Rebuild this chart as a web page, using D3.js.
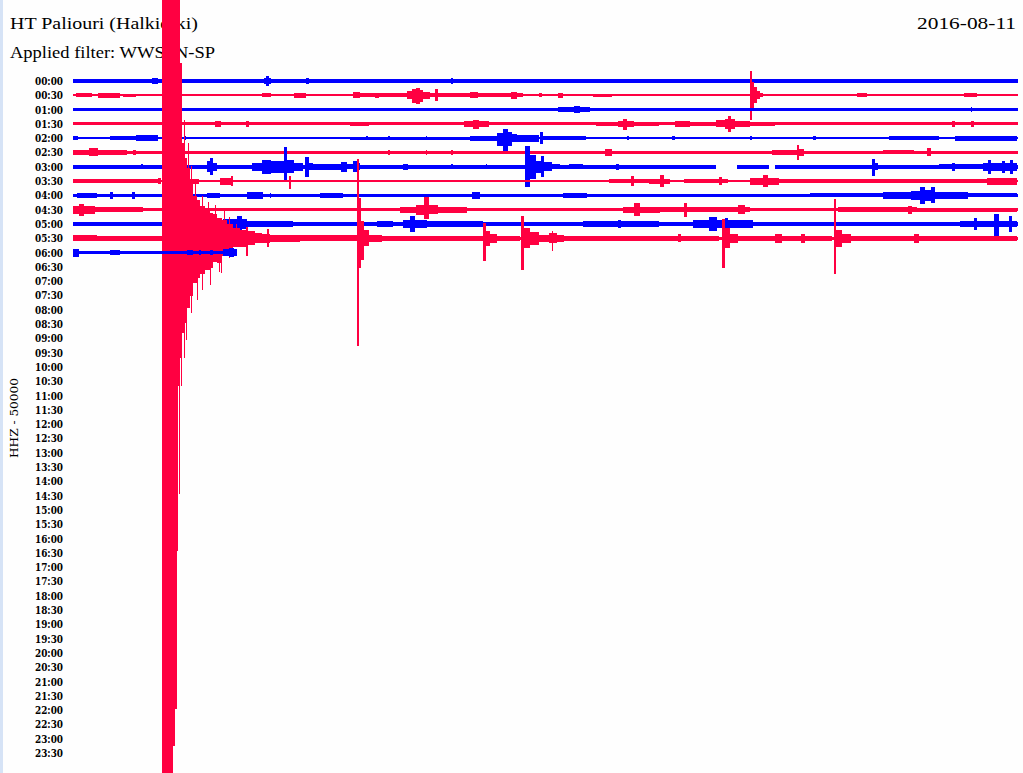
<!DOCTYPE html>
<html>
<head>
<meta charset="utf-8">
<script src="https://cdn.jsdelivr.net/npm/d3@7"></script>
<style>
  html, body { margin: 0; padding: 0; background: #fefefe; overflow: hidden; }
  svg { display: block; }
</style>
</head>
<body>
<div id="chart"></div>
<script>
// helicorder HT Paliouri, 2016-08-11, one line = 30 minutes
var station = "HT Paliouri (Halkidiki)";
var filterName = "Applied filter: WWSSN-SP";
var dayLabel = "2016-08-11";
var channelLabel = "HHZ - 50000";

var rowLabels = [
  "00:00", "00:30", "01:00", "01:30", "02:00", "02:30", "03:00", "03:30",
  "04:00", "04:30", "05:00", "05:30", "06:00", "06:30", "07:00", "07:30",
  "08:00", "08:30", "09:00", "09:30", "10:00", "10:30", "11:00", "11:30",
  "12:00", "12:30", "13:00", "13:30", "14:00", "14:30", "15:00", "15:30",
  "16:00", "16:30", "17:00", "17:30", "18:00", "18:30", "19:00", "19:30",
  "20:00", "20:30", "21:00", "21:30", "22:00", "22:30", "23:00", "23:30"
];

// background noise level of each recorded line (kilocounts)
var noiseLevel = [6, 3.5, 6, 5.5, 3.5, 5.5, 6, 4.5, 6, 5.5, 7, 6, 6];
// minutes recorded on each line
var recordedMinutes = [30, 30, 30, 30, 30, 30, 30, 30, 30, 30, 30, 30, 5.21];
// data gaps: [line, from minute, to minute]
var gaps = [[6, 20.41, 21.08], [6, 22.10, 22.29]];

// bursts per line: [from minute, to minute, peak up (kc), peak down (kc)]
var line0 = [[2.5, 2.7, 9, 9], [6.05, 6.3, 10, 10], [6.13, 6.22, 17, 17], [7.4, 7.5, 9, 9],
  [12.0, 12.05, 9, 9], [18.5, 18.6, 8, 8], [25.0, 25.05, 8, 8]];
var line1 = [[0.1, 0.6, 7, 7], [0.8, 1.5, 8, 8], [1.6, 2.0, 6, 6], [6.0, 6.3, 7, 7], [7.0, 7.4, 8, 8],
  [8.9, 9.1, 10, 10], [9.05, 10.6, 7, 7], [9.6, 9.7, 9, 9], [10.6, 10.75, 14, 14], [10.75, 10.9, 22, 28],
  [10.9, 11.0, 25, 32], [11.0, 11.1, 18, 22], [11.1, 11.33, 11, 13], [11.5, 11.6, 21, 21],
  [11.33, 14.3, 7, 7], [12.6, 12.85, 11, 11], [13.9, 14.1, 13, 13], [14.8, 14.9, 7, 7],
  [15.4, 15.55, 8, 8], [16.5, 17.1, 6, 6], [21.49, 21.56, 84, 88], [21.56, 21.62, 45, 50],
  [21.62, 21.72, 28, 28], [21.72, 21.82, 14, 14], [21.82, 21.92, 7, 7], [24.9, 25.2, 7, 7],
  [28.3, 28.7, 7, 7]];
var line2 = [[15.4, 16.4, 10, 10], [15.9, 16.1, 13, 13], [28.5, 28.55, 8, 8]];
var line3 = [[4.5, 4.7, 10, 10], [5.5, 5.6, 10, 10], [8.8, 9.4, 7, 7], [12.4, 13.2, 10, 12],
  [12.7, 12.9, 14, 18], [16.6, 17.3, 8, 8], [17.3, 17.8, 11, 12], [17.45, 17.6, 18, 21],
  [17.8, 18.6, 8, 8], [19.1, 19.6, 10, 10], [19.6, 20.4, 8, 8], [20.4, 20.7, 12, 12],
  [20.7, 21.0, 18, 18], [20.8, 20.9, 28, 27], [21.0, 21.5, 10, 10], [21.5, 22.3, 8, 8],
  [27.9, 28.0, 10, 10], [28.5, 28.6, 10, 10]];
var line4 = [[0.0, 0.15, 7, 7], [1.17, 2.0, 7, 7], [2.0, 2.7, 10, 10], [3.55, 3.6, 7, 7],
  [8.8, 12.6, 5, 5], [9.3, 9.35, 7, 7], [10.0, 10.05, 7, 7], [11.2, 11.25, 7, 7],
  [12.6, 13.46, 9, 9], [13.46, 13.65, 18, 26], [13.65, 13.8, 31, 47], [13.8, 13.95, 22, 28],
  [13.95, 14.1, 14, 14], [14.1, 14.8, 12, 14], [14.83, 14.92, 21, 21], [14.92, 16.0, 7, 7],
  [16.0, 16.3, 6, 6], [17.6, 17.65, 7, 7], [19.0, 19.1, 7, 7], [21.5, 21.55, 7, 7],
  [23.5, 23.6, 7, 7], [25.9, 27.5, 8, 8], [28.0, 29.97, 9, 9]];
var line5 = [[0.0, 1.7, 9, 9], [0.5, 0.8, 14, 14], [1.9, 2.0, 8, 8], [10.0, 10.05, 8, 8],
  [11.2, 11.25, 8, 8], [12.0, 12.05, 8, 8], [16.9, 17.1, 11, 14], [22.2, 23.0, 8, 8],
  [22.98, 23.06, 27, 28], [23.06, 23.2, 11, 11], [25.7, 26.7, 7, 7], [27.1, 27.25, 14, 14]];
var line6 = [[2.17, 2.22, 9, 9], [4.25, 4.35, 20, 18], [4.35, 4.45, 31, 28], [4.45, 4.57, 14, 14],
  [4.57, 5.7, 7, 7], [5.68, 6.0, 14, 14], [6.0, 6.3, 24, 26], [6.3, 6.7, 20, 20],
  [6.7, 6.8, 70, 49], [6.8, 7.0, 22, 20], [7.0, 7.3, 14, 14], [7.35, 7.5, 35, 35],
  [7.5, 7.62, 12, 12], [7.62, 8.5, 10, 10], [8.5, 8.7, 17, 17], [8.7, 8.9, 9, 9],
  [8.9, 9.0, 21, 17], [9.0, 9.1, 12, 10], [10.48, 10.62, 10, 10], [12.0, 12.05, 8, 8],
  [13.1, 13.15, 8, 8], [14.35, 14.5, 73, 70], [14.5, 14.7, 42, 42], [14.7, 14.85, 20, 20],
  [14.85, 14.95, 38, 35], [14.95, 15.2, 15, 15], [15.2, 15.45, 9, 9], [15.75, 16.2, 9, 9],
  [17.25, 17.32, 10, 10], [25.38, 25.45, 27, 31], [25.45, 25.55, 12, 12], [27.5, 28.9, 8, 8],
  [27.9, 28.0, 14, 14], [28.9, 29.97, 13, 13], [29.05, 29.15, 24, 24], [29.5, 29.6, 21, 21],
  [29.75, 29.85, 25, 25]];
var line7 = [[0.0, 2.76, 7, 7], [2.7, 2.8, 11, 11], [3.6, 4.0, 9, 9], [4.67, 5.08, 12, 12],
  [5.0, 5.08, 17, 17], [6.85, 6.92, 17, 28], [17.0, 18.6, 8, 8], [17.7, 17.8, 17, 17],
  [18.3, 18.95, 9, 9], [18.65, 18.75, 21, 21], [19.4, 20.8, 6, 6], [20.5, 20.6, 14, 14],
  [21.5, 22.4, 12, 12], [21.9, 22.05, 21, 21], [22.4, 29.0, 6, 6], [29.0, 29.97, 12, 12]];
var line8 = [[0.13, 0.76, 9, 9], [1.17, 1.27, 11, 11], [1.87, 1.97, 11, 11], [4.25, 4.67, 8, 8],
  [5.52, 6.03, 11, 11], [6.25, 6.3, 10, 10], [7.84, 8.57, 8, 8], [12.67, 12.92, 13, 13],
  [15.56, 16.32, 10, 10], [23.4, 25.7, 7, 7], [25.7, 26.6, 11, 11], [26.6, 27.0, 17, 17],
  [26.9, 27.05, 31, 31], [27.05, 27.3, 18, 18], [27.25, 27.35, 28, 28], [27.35, 27.8, 12, 12],
  [27.8, 28.4, 12, 12], [28.4, 29.97, 7, 7]];
var line9 = [[0.0, 0.7, 14, 14], [0.2, 0.35, 21, 21], [0.7, 2.22, 8, 8], [10.38, 12.51, 10, 10],
  [10.9, 11.15, 18, 18], [11.15, 11.3, 45, 31], [11.3, 11.6, 15, 15], [11.6, 12.51, 9, 9],
  [17.46, 18.63, 11, 11], [17.8, 18.0, 22, 22], [18.32, 21.49, 9, 9], [19.4, 19.48, 24, 24],
  [21.11, 21.33, 15, 15], [24.3, 26.8, 8, 8], [26.5, 26.65, 14, 14], [26.8, 29.97, 7, 7]];
var line10 = [[0.0, 2.76, 8, 8], [4.76, 5.52, 17, 17], [5.2, 5.35, 28, 28], [5.52, 6.98, 10, 10],
  [6.98, 8.95, 8, 8], [9.65, 10.16, 10, 10], [10.48, 11.24, 14, 14], [10.7, 10.85, 28, 28],
  [11.24, 13.0, 10, 10], [13.0, 16.0, 8, 8], [16.2, 18.6, 10, 10], [17.3, 17.4, 14, 14],
  [18.6, 19.7, 8, 8], [19.68, 21.6, 14, 14], [20.2, 20.45, 26, 26], [20.7, 20.8, 21, 21],
  [21.6, 28.2, 8, 8], [28.16, 29.97, 12, 12], [28.6, 28.7, 21, 21], [29.25, 29.4, 35, 42],
  [29.7, 29.82, 28, 28]];
// 05:30 line, with the large earthquake at 05:32:50 and its aftershocks
var line11 = [[0.0, 0.76, 11, 11], [0.76, 2.83, 8, 8],
  [2.83, 3.17, 2450, 2450], [3.17, 3.24, 2450, 1775], [3.24, 3.30, 2450, 1645],
  [3.30, 3.33, 2450, 1095], [3.33, 3.40, 840, 515], [3.36, 3.38, 840, 896],
  [3.40, 3.46, 612, 420], [3.44, 3.46, 612, 515],
  [3.46, 3.56, 332, 332], [3.51, 3.53, 413, 420], [3.56, 3.62, 280, 298], [3.60, 3.62, 280, 354],
  [3.62, 3.71, 245, 245], [3.64, 3.66, 332, 245], [3.71, 3.81, 192, 203], [3.74, 3.76, 252, 262],
  [3.81, 3.94, 147, 158], [3.86, 3.88, 192, 158], [3.94, 4.03, 133, 140], [3.94, 3.96, 133, 217],
  [4.03, 4.19, 112, 126], [4.09, 4.11, 147, 182], [4.19, 4.35, 98, 112], [4.28, 4.30, 126, 112],
  [4.35, 4.44, 88, 105], [4.36, 4.38, 88, 164], [4.44, 4.57, 84, 84], [4.50, 4.52, 115, 84],
  [4.57, 4.73, 70, 88], [4.62, 4.64, 70, 119], [4.69, 4.71, 70, 122], [4.73, 4.89, 63, 63],
  [4.78, 4.80, 94, 63], [4.89, 5.08, 49, 46], [4.94, 4.96, 73, 70], [5.08, 5.30, 35, 32],
  [5.16, 5.18, 49, 32], [5.30, 5.52, 30, 30], [5.48, 5.55, 40, 63],
  [5.52, 5.78, 24, 22], [5.78, 6.0, 18, 18], [6.0, 6.25, 15, 15], [6.16, 6.22, 31, 31],
  [6.25, 7.21, 12, 12], [7.21, 9.0, 10, 10],
  [9.03, 9.08, 276, 378], [9.0, 9.13, 140, 105], [9.13, 9.25, 60, 77], [9.25, 9.4, 28, 28],
  [9.4, 9.8, 13, 13], [9.8, 13.0, 9, 9],
  [13.0, 13.1, 52, 80], [13.1, 13.25, 25, 28], [13.25, 13.45, 15, 15], [13.45, 14.2, 9, 9],
  [14.22, 14.32, 77, 110], [14.32, 14.5, 35, 35], [14.5, 14.8, 22, 22], [14.8, 15.1, 13, 13],
  [15.1, 15.37, 18, 18], [15.2, 15.25, 24, 45], [15.37, 15.6, 12, 12], [15.6, 20.5, 9, 9],
  [19.2, 19.3, 14, 14], [20.6, 20.7, 66, 105], [20.7, 20.85, 35, 35], [20.85, 21.1, 15, 15],
  [21.1, 24.1, 9, 9], [22.3, 22.5, 15, 15], [23.1, 23.25, 15, 15],
  [24.15, 24.23, 136, 126], [24.23, 24.4, 30, 30], [24.4, 24.7, 15, 15],
  [24.7, 29.97, 9, 9], [26.7, 26.85, 15, 15]];
var line12 = [[0.0, 0.2, 14, 14], [1.17, 1.49, 10, 10], [3.62, 3.81, 10, 10], [4.0, 4.05, 10, 10],
  [4.35, 4.44, 10, 10], [4.76, 5.21, 12, 12], [4.95, 5.1, 17, 17]];

var bursts = [line0, line1, line2, line3, line4, line5, line6, line7, line8, line9, line10, line11, line12];

var colors = ["#0000ff", "#ff0041"];

var width = 1023, height = 773;

var svg = d3.select("#chart").append("svg")
    .attr("width", width)
    .attr("height", height);

svg.append("rect")
    .attr("width", width)
    .attr("height", height)
    .style("fill", "#fefefe");

// pale strip at the left edge
svg.append("rect")
    .attr("width", 3)
    .attr("height", height)
    .style("fill", "#d6e3f6");

var x = d3.scaleLinear().domain([0, 30]).range([73, 1018]);
var y = d3.scalePoint().domain(rowLabels).range([81, 753]);
var rowStep = y.step();
// 50000 counts = one line spacing
var amp = d3.scaleLinear().domain([0, 50]).range([0, rowStep]);

svg.append("text")
    .attr("x", 10).attr("y", 29)
    .attr("textLength", 188).attr("lengthAdjust", "spacingAndGlyphs")
    .style("font-family", "Liberation Serif").style("font-size", "17px")
    .text(station);

svg.append("text")
    .attr("x", 10).attr("y", 58)
    .attr("textLength", 205).attr("lengthAdjust", "spacingAndGlyphs")
    .style("font-family", "Liberation Serif").style("font-size", "17px")
    .text(filterName);

svg.append("text")
    .attr("x", 1016).attr("y", 29)
    .attr("text-anchor", "end")
    .attr("textLength", 99).attr("lengthAdjust", "spacingAndGlyphs")
    .style("font-family", "Liberation Serif").style("font-size", "17px")
    .text(dayLabel);

svg.append("text")
    .attr("transform", "translate(18,418) rotate(-90)")
    .attr("text-anchor", "middle")
    .attr("textLength", 80).attr("lengthAdjust", "spacingAndGlyphs")
    .style("font-family", "DejaVu Serif").style("font-size", "11.5px")
    .text(channelLabel);

svg.append("g").selectAll("text")
    .data(rowLabels)
    .enter().append("text")
    .attr("x", 63)
    .attr("y", d => y(d) + 4)
    .attr("text-anchor", "end")
    .attr("textLength", 28).attr("lengthAdjust", "spacingAndGlyphs")
    .style("font-family", "DejaVu Serif").style("font-size", "11.5px")
    .style("font-weight", "bold")
    .text(d => d);

// recorded lines, drawn in time order so later lines cover earlier ones
bursts.forEach(function(list, i) {
    var cy = y(rowLabels[i]);
    var col = colors[i % 2];
    var g = svg.append("g").style("fill", col).attr("shape-rendering", "crispEdges");

    // baseline segments with gaps cut out
    var segs = [[0, recordedMinutes[i]]];
    gaps.filter(gp => gp[0] == i).forEach(function(gp) {
        var out = [];
        segs.forEach(function(s) {
            if (gp[2] <= s[0] || gp[1] >= s[1]) { out.push(s); return; }
            if (gp[1] > s[0]) out.push([s[0], gp[1]]);
            if (gp[2] < s[1]) out.push([gp[2], s[1]]);
        });
        segs = out;
    });

    g.selectAll("rect.base")
        .data(segs)
        .enter().append("rect")
        .attr("class", "base")
        .attr("x", d => x(d[0]))
        .attr("width", d => x(d[1]) - x(d[0]))
        .attr("y", cy - amp(noiseLevel[i]))
        .attr("height", 2 * amp(noiseLevel[i]));

    g.selectAll("rect.burst")
        .data(list)
        .enter().append("rect")
        .attr("class", "burst")
        .attr("x", d => x(d[0]))
        .attr("width", d => Math.max(1, x(d[1]) - x(d[0])))
        .attr("y", d => cy - amp(d[2]))
        .attr("height", d => amp(d[2]) + amp(d[3]));
});
</script>
</body>
</html>
